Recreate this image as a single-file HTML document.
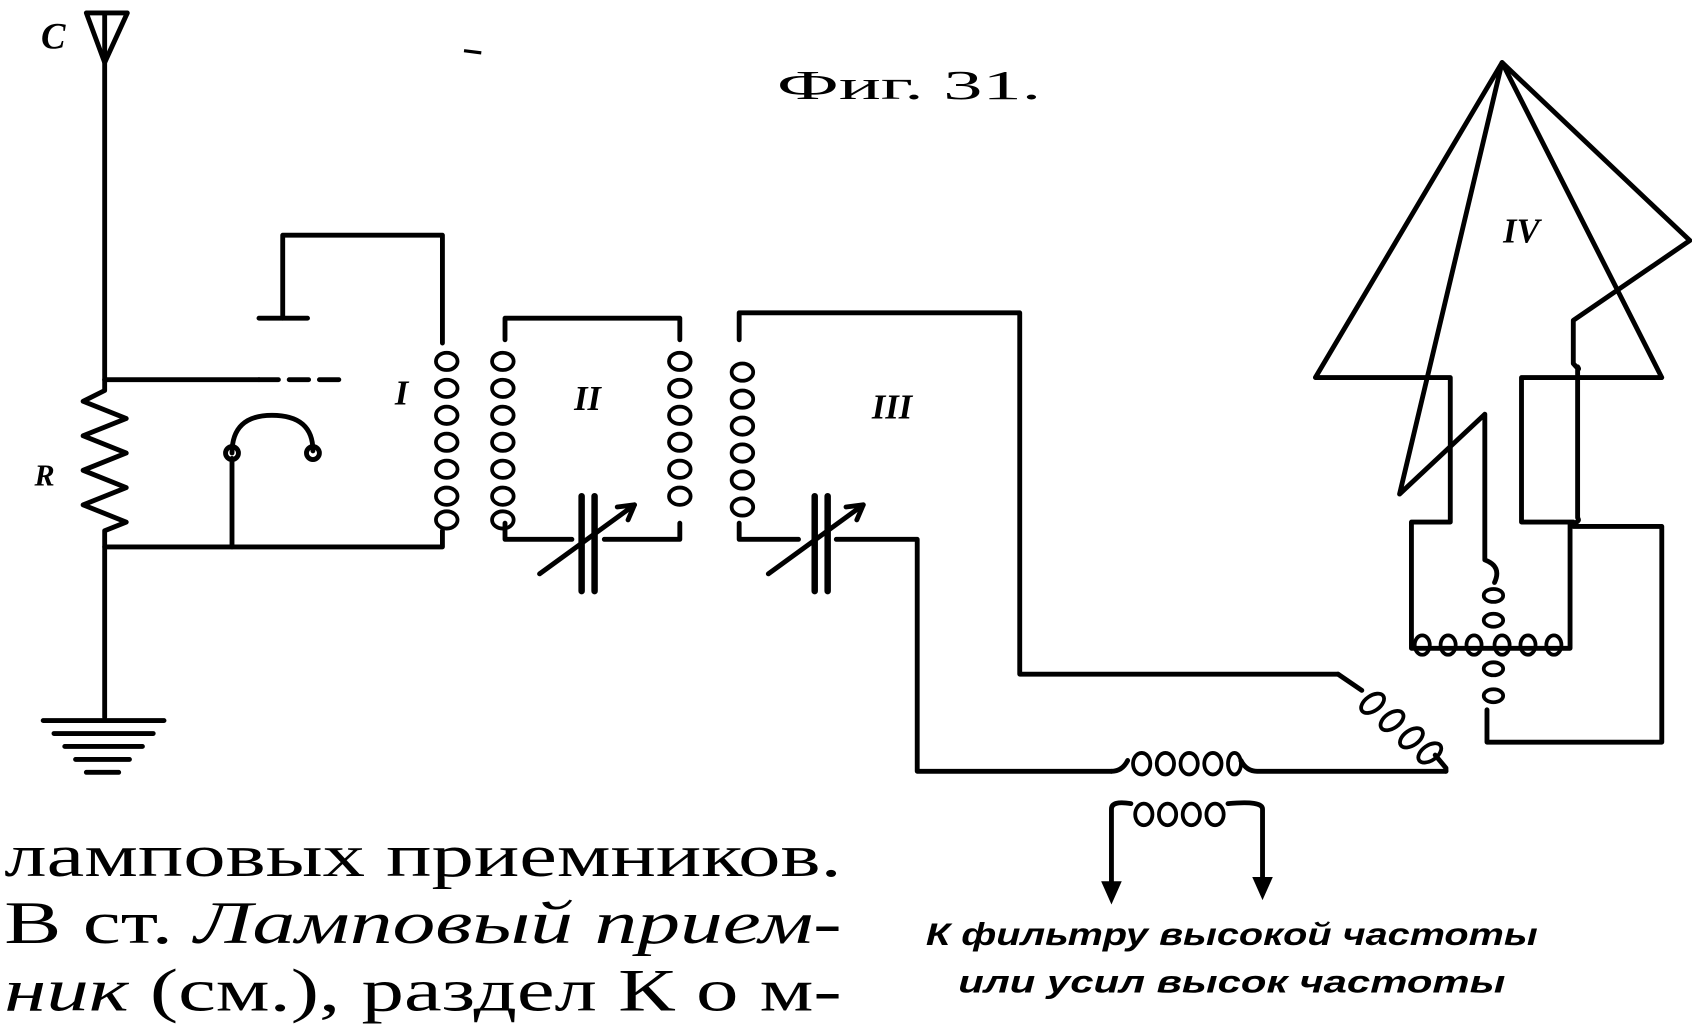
<!DOCTYPE html>
<html><head><meta charset="utf-8"><style>
html,body{margin:0;padding:0;background:#fff;}
svg{display:block}
</style></head><body>
<svg width="1692" height="1028" viewBox="0 0 1568 953" preserveAspectRatio="none" xmlns="http://www.w3.org/2000/svg">
<rect width="1568" height="953" fill="#fff"/>
<g fill="none" stroke="#000" stroke-width="4.5" stroke-linejoin="round" stroke-linecap="round">
<path d="M80 12 L118 12 L97 58 Z"/>
<path d="M97 12 V352"/>
<path d="M97 352 V362 L77 372 L117 388 L77 404 L117 420 L77 436 L117 452 L77 468 L117 484 L97 492 V665"/>
<path d="M40 668 H152 M50 680 H142 M60 692 H132 M70 704 H120 M80 716 H110"/>
<path d="M97 352 H240"/>
<path d="M240 352 H320" stroke-dasharray="18 10"/>
<path d="M262 295 V218 H410 V318"/>
<path d="M240 295 H285"/>
<path d="M97 507 H410 V492"/>
<g stroke-width="3.5">
<ellipse cx="414" cy="335" rx="10" ry="8"/><ellipse cx="414" cy="360" rx="10" ry="8"/><ellipse cx="414" cy="385" rx="10" ry="8"/><ellipse cx="414" cy="410" rx="10" ry="8"/><ellipse cx="414" cy="435" rx="10" ry="8"/><ellipse cx="414" cy="460" rx="10" ry="8"/><ellipse cx="414" cy="482" rx="10" ry="8"/>
</g>
<path d="M215 420 Q215 385 252 385 Q290 385 290 418"/>
<path d="M215 425 V507"/>
<circle cx="215" cy="420" r="6"/><circle cx="290" cy="420" r="6"/>
<path d="M468 315 V295 H630 V315"/>
<path d="M468 485 V500 H530 M560 500 H630 V485"/>
<g stroke-width="3.5">
<ellipse cx="466" cy="335" rx="10" ry="8"/><ellipse cx="466" cy="360" rx="10" ry="8"/><ellipse cx="466" cy="385" rx="10" ry="8"/><ellipse cx="466" cy="410" rx="10" ry="8"/><ellipse cx="466" cy="435" rx="10" ry="8"/><ellipse cx="466" cy="460" rx="10" ry="8"/><ellipse cx="466" cy="482" rx="10" ry="8"/>
<ellipse cx="630" cy="335" rx="10" ry="8"/><ellipse cx="630" cy="360" rx="10" ry="8"/><ellipse cx="630" cy="385" rx="10" ry="8"/><ellipse cx="630" cy="410" rx="10" ry="8"/><ellipse cx="630" cy="435" rx="10" ry="8"/><ellipse cx="630" cy="460" rx="10" ry="8"/>
</g>
<path d="M539 460 V548 M551 460 V548" stroke-width="6"/>
<path d="M500 532 L588 468"/>
<path d="M588 468 L572 470 M588 468 L582 482"/>
<path d="M685 315 V290 H945 V625 H1240"/>
<path d="M685 485 V500 H740 M775 500 H850 V715 H1030"/>
<g stroke-width="3.5">
<ellipse cx="688" cy="345" rx="10" ry="8"/><ellipse cx="688" cy="370" rx="10" ry="8"/><ellipse cx="688" cy="395" rx="10" ry="8"/><ellipse cx="688" cy="420" rx="10" ry="8"/><ellipse cx="688" cy="445" rx="10" ry="8"/><ellipse cx="688" cy="470" rx="10" ry="8"/>
</g>
<path d="M755 460 V548 M767 460 V548" stroke-width="6"/>
<path d="M712 532 L800 468"/>
<path d="M800 468 L784 470 M800 468 L794 482"/>
<path d="M1240 625 L1262 640 M1330 700 L1340 712 L1340 715"/>
<g stroke-width="3.5">
<ellipse cx="1272" cy="652" rx="12" ry="7" transform="rotate(-35 1272 652)"/>
<ellipse cx="1290" cy="668" rx="12" ry="7" transform="rotate(-35 1290 668)"/>
<ellipse cx="1308" cy="684" rx="12" ry="7" transform="rotate(-35 1308 684)"/>
<ellipse cx="1325" cy="698" rx="12" ry="7" transform="rotate(-35 1325 698)"/>
</g>
<path d="M1030 715 Q1040 715 1045 705 M1150 705 Q1155 715 1165 715 H1340"/>
<g stroke-width="3.5">
<ellipse cx="1058" cy="708" rx="8" ry="10"/><ellipse cx="1080" cy="708" rx="8" ry="10"/><ellipse cx="1102" cy="708" rx="8" ry="10"/><ellipse cx="1124" cy="708" rx="8" ry="10"/><ellipse cx="1144" cy="708" rx="6" ry="10"/>
<ellipse cx="1060" cy="755" rx="8" ry="10"/><ellipse cx="1082" cy="755" rx="8" ry="10"/><ellipse cx="1104" cy="755" rx="8" ry="10"/><ellipse cx="1126" cy="755" rx="8" ry="10"/>
</g>
<path d="M1030 832 V750 Q1030 742 1048 745 M1138 745 Q1170 742 1170 750 V828"/>
<path d="M1392 58 L1219 350 H1344 V484 H1308 V601 H1455 V486 Q1465 484 1462 480 V340 Q1465 345 1458 337 V297 L1566 223 Z"/>
<path d="M1392 58 L1540 350 H1410 V484 H1458"/>
<path d="M1458 488 H1540 V688 H1378 V658"/>
<path d="M1392 58 L1297 458 L1376 384 V519 Q1392 525 1385 540"/>
<g stroke-width="3.5">
<ellipse cx="1318" cy="598" rx="7" ry="9"/><ellipse cx="1342" cy="598" rx="7" ry="9"/><ellipse cx="1366" cy="598" rx="7" ry="9"/><ellipse cx="1392" cy="598" rx="7" ry="9"/><ellipse cx="1416" cy="598" rx="7" ry="9"/><ellipse cx="1440" cy="598" rx="7" ry="9"/>
<ellipse cx="1384" cy="552" rx="9" ry="6"/><ellipse cx="1384" cy="575" rx="9" ry="6"/><ellipse cx="1384" cy="620" rx="9" ry="6"/><ellipse cx="1384" cy="645" rx="9" ry="6"/>
</g>
</g>
<g fill="#000" stroke="#000" stroke-width="2">
<path d="M1022 818 L1030 836 L1038 818 Z"/>
<path d="M1162 814 L1170 832 L1178 814 Z"/>
</g>
<path d="M430 47 L446 49" stroke="#000" stroke-width="3"/>
<g font-family="'Liberation Serif','DejaVu Serif',serif" fill="#000">
<text x="38" y="45" font-size="34" font-weight="bold" font-style="italic">C</text>
<text x="32" y="450" font-size="28" font-weight="bold" font-style="italic">R</text>
<text x="366" y="375" font-size="32" font-style="italic" font-weight="bold">I</text>
<text x="532" y="380" font-size="32" font-style="italic" font-weight="bold">II</text>
<text x="808" y="388" font-size="32" font-style="italic" font-weight="bold">III</text>
<text x="1393" y="225" font-size="32" font-style="italic" font-weight="bold">IV</text>
<text x="720" y="92" font-size="38" textLength="245" lengthAdjust="spacingAndGlyphs">Фиг. 31.</text>
<text x="4" y="812" font-size="56" textLength="776" lengthAdjust="spacingAndGlyphs">ламповых приемников.</text>
<text x="4" y="874" font-size="56" textLength="776" lengthAdjust="spacingAndGlyphs">В ст. <tspan font-style="italic">Ламповый</tspan> <tspan font-style="italic">прием-</tspan></text>
<text x="4" y="937" font-size="56" textLength="776" lengthAdjust="spacingAndGlyphs"><tspan font-style="italic">ник</tspan> (см.), раздел К о м-</text>
</g>
<g font-family="'Liberation Sans','DejaVu Sans',sans-serif" font-style="italic" font-weight="bold" fill="#000" font-size="29">
<text x="858" y="876" textLength="567" lengthAdjust="spacingAndGlyphs">К фильтру  высокой  частоты</text>
<text x="888" y="920" textLength="507" lengthAdjust="spacingAndGlyphs">или  усил  высок  частоты</text>
</g>
</svg>
</body></html>
